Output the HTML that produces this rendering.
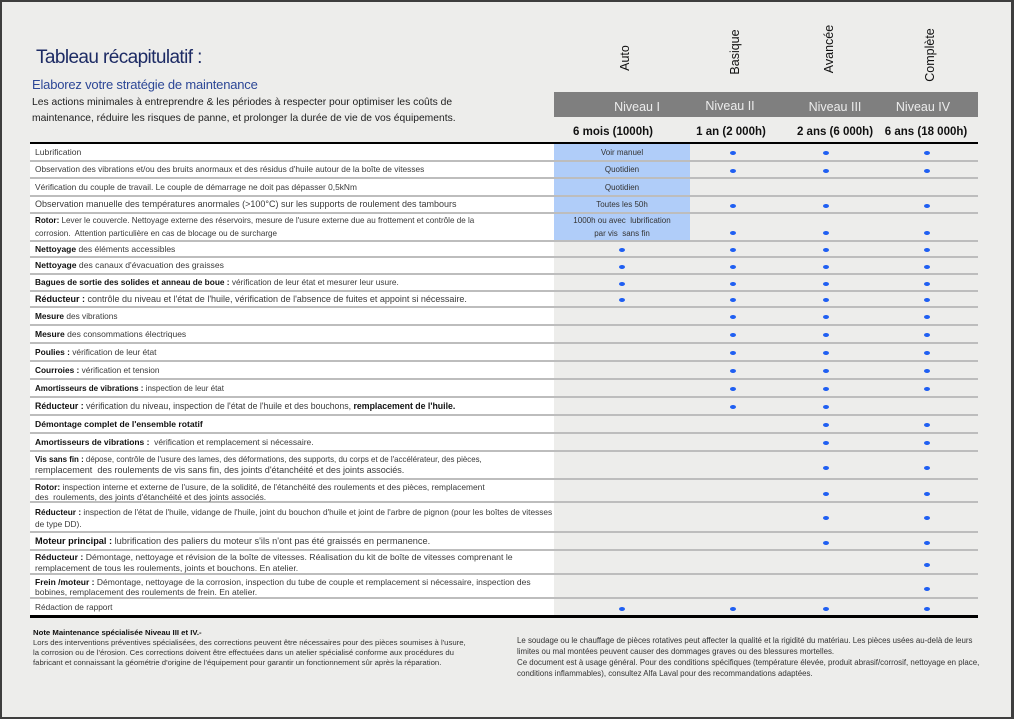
<!DOCTYPE html>
<html><head><meta charset="utf-8">
<style>
html,body{margin:0;padding:0;}
body{width:1014px;height:719px;background:#3e3e3e;position:relative;overflow:hidden;font-family:"Liberation Sans",sans-serif;}
#pg{position:absolute;left:2px;top:2px;width:1009px;height:715px;background:#ededeb;}
.a{position:absolute;white-space:nowrap;}
.c{position:absolute;width:140px;margin-left:-70px;text-align:center;white-space:nowrap;}
.v{position:absolute;width:80px;height:16px;line-height:16px;text-align:center;transform:rotate(-90deg);font-size:12.5px;color:#111;white-space:nowrap;}
.r{position:absolute;left:30px;width:948px;border-bottom:2px solid #bdbdbd;}
.l{position:absolute;left:0;top:0;bottom:0;width:519px;padding-left:5px;background:#fff;display:flex;align-items:center;font-size:8.3px;color:#3a3a3a;white-space:nowrap;line-height:11px;}
.l b{color:#111;}
.b{position:absolute;left:524px;width:136px;top:0;bottom:0;background:#b0cdf9;display:flex;align-items:center;justify-content:center;text-align:center;font-size:8px;color:#333;line-height:13px;white-space:nowrap;}
.d{position:absolute;width:6px;height:4px;border-radius:50%;background:#1f5ff2;top:calc(50% - 1px);}
.d1{left:589px}.d2{left:700px}.d3{left:793px}.d4{left:894px}
</style></head><body>
<div id="pg"></div>

<div class="a" style="left:36px;top:47px;font-size:19px;line-height:22px;color:#1d2b64;letter-spacing:-0.6px;">Tableau récapitulatif :</div>
<div class="a" style="left:32px;top:77px;font-size:13px;line-height:16px;color:#2c4796;letter-spacing:-0.2px;">Elaborez votre stratégie de maintenance</div>
<div class="a" style="left:32px;top:95px;font-size:10.3px;line-height:16px;color:#1e1e1e;">Les actions minimales à entreprendre &amp; les périodes à respecter pour optimiser les coûts de<br>maintenance, réduire les risques de panne, et prolonger la durée de vie de vos équipements.</div>

<div class="v" style="left:585px;top:49.5px;">Auto</div>
<div class="v" style="left:695px;top:44px;">Basique</div>
<div class="v" style="left:788.5px;top:41px;">Avancée</div>
<div class="v" style="left:890px;top:46.5px;">Complète</div>

<div class="a" style="left:554px;top:92px;width:424px;height:25px;background:#7f7f7f;"></div>
<div class="c" style="left:637px;top:100px;font-size:12.5px;line-height:15px;color:#ececec;">Niveau I</div>
<div class="c" style="left:730px;top:99px;font-size:12.5px;line-height:15px;color:#ececec;">Niveau II</div>
<div class="c" style="left:835px;top:100px;font-size:12.5px;line-height:15px;color:#ececec;">Niveau III</div>
<div class="c" style="left:923px;top:100px;font-size:12.5px;line-height:15px;color:#ececec;">Niveau IV</div>

<div class="c" style="left:613px;top:125px;font-size:11.5px;line-height:15px;font-weight:bold;color:#111;">6 mois (1000h)</div>
<div class="c" style="left:731px;top:125px;font-size:11.5px;line-height:15px;font-weight:bold;color:#111;">1 an (2 000h)</div>
<div class="c" style="left:835px;top:125px;font-size:11.5px;line-height:15px;font-weight:bold;color:#111;">2 ans (6 000h)</div>
<div class="c" style="left:926px;top:125px;font-size:11.5px;line-height:15px;font-weight:bold;color:#111;">6 ans (18 000h)</div>

<div class="a" style="left:30px;top:142px;width:948px;height:2px;background:#000;"></div>

<div class="r" style="top:144px;height:16px"><div class="l" style="font-size:8.6px">Lubrification</div><div class="b">Voir manuel</div><i class="d d2"></i><i class="d d3"></i><i class="d d4"></i></div>
<div class="r" style="top:162px;height:15px"><div class="l" style="font-size:8.35px">Observation des vibrations et/ou des bruits anormaux et des résidus d'huile autour de la boîte de vitesses</div><div class="b">Quotidien</div><i class="d d2"></i><i class="d d3"></i><i class="d d4"></i></div>
<div class="r" style="top:179px;height:16px"><div class="l" style="font-size:8.35px">Vérification du couple de travail. Le couple de démarrage ne doit pas dépasser 0,5kNm</div><div class="b">Quotidien</div></div>
<div class="r" style="top:197px;height:15px"><div class="l" style="font-size:9px">Observation manuelle des températures anormales (&gt;100°C) sur les supports de roulement des tambours</div><div class="b">Toutes les 50h</div><i class="d d2"></i><i class="d d3"></i><i class="d d4"></i></div>
<div class="r" style="top:214px;height:26px"><div class="l" style="line-height:13px;font-size:8.1px"><span><b>Rotor:</b> Lever le couvercle. Nettoyage externe des réservoirs, mesure de l'usure externe due au frottement et contrôle de la<br>corrosion.&nbsp; Attention particulière en cas de blocage ou de surcharge</span></div><div class="b"><span>1000h ou avec&nbsp; lubrification<br>par vis&nbsp; sans fin</span></div><i class="d d2" style="top:17px"></i><i class="d d3" style="top:17px"></i><i class="d d4" style="top:17px"></i></div>
<div class="r" style="top:242px;height:14px"><div class="l" style="font-size:8.5px"><span><b>Nettoyage</b> des éléments accessibles</span></div><i class="d d1"></i><i class="d d2"></i><i class="d d3"></i><i class="d d4"></i></div>
<div class="r" style="top:258px;height:15px"><div class="l" style="font-size:8.6px"><span><b>Nettoyage</b> des canaux d'évacuation des graisses</span></div><i class="d d1"></i><i class="d d2"></i><i class="d d3"></i><i class="d d4"></i></div>
<div class="r" style="top:275px;height:15px"><div class="l" style="font-size:8.3px"><span><b>Bagues de sortie des solides et anneau de boue :</b> vérification de leur état et mesurer leur usure.</span></div><i class="d d1"></i><i class="d d2"></i><i class="d d3"></i><i class="d d4"></i></div>
<div class="r" style="top:292px;height:14px"><div class="l" style="font-size:9px"><span><b>Réducteur :</b> contrôle du niveau et l'état de l'huile, vérification de l'absence de fuites et appoint si nécessaire.</span></div><i class="d d1"></i><i class="d d2"></i><i class="d d3"></i><i class="d d4"></i></div>
<div class="r" style="top:308px;height:16px"><div class="l" style="font-size:8.3px"><span><b>Mesure</b> des vibrations</span></div><i class="d d2"></i><i class="d d3"></i><i class="d d4"></i></div>
<div class="r" style="top:326px;height:16px"><div class="l" style="font-size:8.5px"><span><b>Mesure</b> des consommations électriques</span></div><i class="d d2"></i><i class="d d3"></i><i class="d d4"></i></div>
<div class="r" style="top:344px;height:16px"><div class="l" style="font-size:8.4px"><span><b>Poulies :</b> vérification de leur état</span></div><i class="d d2"></i><i class="d d3"></i><i class="d d4"></i></div>
<div class="r" style="top:362px;height:16px"><div class="l" style="font-size:8.3px"><span><b>Courroies :</b> vérification et tension</span></div><i class="d d2"></i><i class="d d3"></i><i class="d d4"></i></div>
<div class="r" style="top:380px;height:16px"><div class="l" style="font-size:8px"><span><b>Amortisseurs de vibrations :</b> inspection de leur état</span></div><i class="d d2"></i><i class="d d3"></i><i class="d d4"></i></div>
<div class="r" style="top:398px;height:16px"><div class="l" style="font-size:8.75px"><span><b>Réducteur :</b> vérification du niveau, inspection de l'état de l'huile et des bouchons, <b>remplacement de l'huile.</b></span></div><i class="d d2"></i><i class="d d3"></i></div>
<div class="r" style="top:416px;height:16px"><div class="l" style="font-size:8.6px"><b>Démontage complet de l'ensemble rotatif</b></div><i class="d d3"></i><i class="d d4"></i></div>
<div class="r" style="top:434px;height:16px"><div class="l" style="font-size:8.45px"><span><b>Amortisseurs de vibrations :</b>&nbsp; vérification et remplacement si nécessaire.</span></div><i class="d d3"></i><i class="d d4"></i></div>
<div class="r" style="top:452px;height:26px"><div class="l" style="font-size:8.3px"><span><span style="font-size:7.93px"><b>Vis sans fin :</b> dépose, contrôle de l'usure des lames, des déformations, des supports, du corps et de l'accélérateur, des pièces,</span><br><span style="font-size:9.05px">remplacement&nbsp; des roulements de vis sans fin, des joints d'étanchéité et des joints associés.</span></span></div><i class="d d3" style="top:14px"></i><i class="d d4" style="top:14px"></i></div>
<div class="r" style="top:480px;height:21px"><div class="l" style="line-height:10px;font-size:8.38px;padding-top:2px;height:19px"><span><b>Rotor:</b> inspection interne et externe de l'usure, de la solidité, de l'étanchéité des roulements et des pièces, remplacement<br>des&nbsp; roulements, des joints d'étanchéité et des joints associés.</span></div><i class="d d3" style="top:12px"></i><i class="d d4" style="top:12px"></i></div>
<div class="r" style="top:503px;height:28px"><div class="l" style="line-height:12px;font-size:8.3px;padding-top:2px;height:26px"><span><b>Réducteur :</b> inspection de l'état de l'huile, vidange de l'huile, joint du bouchon d'huile et joint de l'arbre de pignon (pour les boîtes de vitesses<br>de type DD).</span></div><i class="d d3" style="top:13px"></i><i class="d d4" style="top:13px"></i></div>
<div class="r" style="top:533px;height:16px"><div class="l" style="font-size:9.2px"><span><b>Moteur principal :</b> lubrification des paliers du moteur s'ils n'ont pas été graissés en permanence.</span></div><i class="d d3" style="top:8px"></i><i class="d d4" style="top:8px"></i></div>
<div class="r" style="top:551px;height:22px"><div class="l" style="line-height:10.5px;font-size:8.7px;padding-top:1px;height:21px"><span><b>Réducteur :</b> Démontage, nettoyage et révision de la boîte de vitesses. Réalisation du kit de boîte de vitesses comprenant le<br>remplacement de tous les roulements, joints et bouchons. En atelier.</span></div><i class="d d4" style="top:12px"></i></div>
<div class="r" style="top:575px;height:22px"><div class="l" style="line-height:10.5px;font-size:8.5px;padding-top:2px;height:20px"><span><b>Frein /moteur :</b> Démontage, nettoyage de la corrosion, inspection du tube de couple et remplacement si nécessaire, inspection des<br>bobines, remplacement des roulements de frein. En atelier.</span></div><i class="d d4" style="top:12px"></i></div>
<div class="r" style="top:599px;height:16px;border-bottom:3px solid #000;"><div class="l" style="font-size:8.3px">Rédaction de rapport</div><i class="d d1" style="top:8px"></i><i class="d d2" style="top:8px"></i><i class="d d3" style="top:8px"></i><i class="d d4" style="top:8px"></i></div>

<div class="a" style="left:33px;top:628px;font-size:7.75px;line-height:10px;color:#333;"><b style="color:#111">Note Maintenance spécialisée Niveau III et IV.-</b><br>Lors des interventions préventives spécialisées, des corrections peuvent être nécessaires pour des pièces soumises à l'usure,<br>la corrosion ou de l'érosion. Ces corrections doivent être effectuées dans un atelier spécialisé conforme aux procédures du<br>fabricant et connaissant la géométrie d'origine de l'équipement pour garantir un fonctionnement sûr après la réparation.</div>

<div class="a" style="left:517px;top:634.5px;font-size:7.9px;line-height:11px;color:#333;">Le soudage ou le chauffage de pièces rotatives peut affecter la qualité et la rigidité du matériau. Les pièces usées au-delà de leurs<br>limites ou mal montées peuvent causer des dommages graves ou des blessures mortelles.<br>Ce document est à usage général. Pour des conditions spécifiques (température élevée, produit abrasif/corrosif, nettoyage en place,<br>conditions inflammables), consultez Alfa Laval pour des recommandations adaptées.</div>
</body></html>
